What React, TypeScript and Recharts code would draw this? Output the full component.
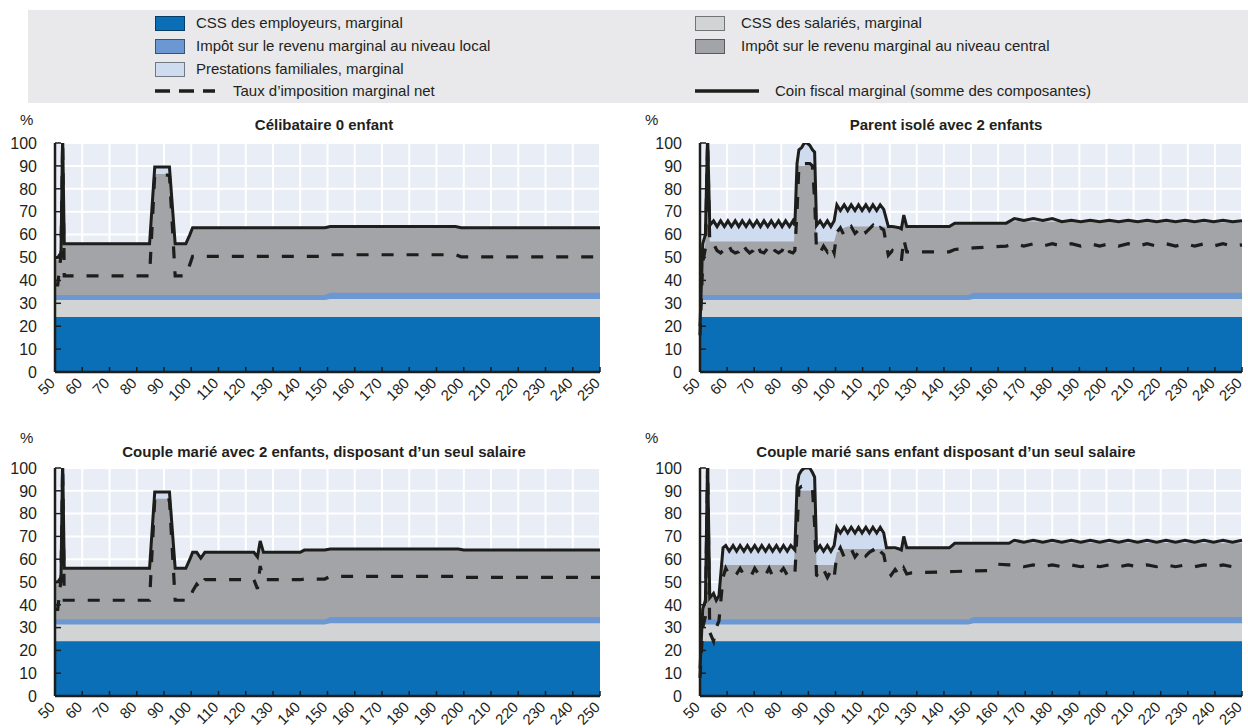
import React from "react";
import { ComposedChart, Area, Line, XAxis, YAxis, CartesianGrid } from "recharts";

const FONT = "'Liberation Sans Narrow', 'Arial Narrow', 'Liberation Sans', Arial, sans-serif";
const INK = "#1d1d1b";
const TEXT = "#231f20";

const C_EMPLOYER = "#0a6fb7";
const C_EMPLOYEE = "#d1d3d4";
const C_LOCAL = "#6b97d2";
const C_FAMILY = "#cfdbef";
const C_CENTRAL = "#a3a4a7";
const PLOT_BG = "#e8edf6";
const LEGEND_BG = "#e9e9eb";

const X_TICKS = [50, 60, 70, 80, 90, 100, 110, 120, 130, 140, 150, 160, 170, 180, 190, 200, 210, 220, 230, 240, 250];
const Y_TICKS = [0, 10, 20, 30, 40, 50, 60, 70, 80, 90, 100];

// layers shared by all four households (top of each layer, %)
const BAND_WAGE = [50, 149, 151, 250];
const EMPLOYER_TOP = [24, 24, 24, 24];
const EMPLOYEE_TOP = [31.4, 31.4, 31.9, 31.9];
const LOCAL_TOP = [33.6, 33.6, 34.6, 34.6];

// Célibataire 0 enfant
const P1_WAGE = [50, 51, 52.2, 52.8, 53.4, 84.7, 86.6, 92, 94.1, 98, 99.5, 100.5, 149, 151, 197, 199, 250];
const P1_TOTAL = [50, 50, 52, 104, 56, 56, 89.5, 89.5, 56, 56, 60, 63, 63, 63.5, 63.5, 63, 63];
const P1_NET = [38, 38, 51, 100, 42, 42, 86, 86, 42, 42, 47, 50.5, 50.5, 51.2, 51.2, 50.3, 50.3];
const P1_GRAY_TOP = [49, 49, 51, 104, 56, 56, 86.5, 86.5, 56, 56, 60, 63, 63, 63.5, 63.5, 63, 63];

// Parent isolé avec 2 enfants
const P2_WAGE = [
  50, 51, 52, 52.8, 53.6,
  55, 56.3, 57.6, 59, 60.3, 61.6, 63, 64.3, 65.6, 67, 68.3, 69.6, 71, 72.3, 73.6, 75, 76.3, 77.6, 79, 80.3, 81.6, 83, 84.3,
  85, 85.8, 86.5, 87.5, 88.5, 89.5, 90.5, 91.5, 92.3, 93,
  94.3, 95.6, 97, 98.3, 99.5,
  100.5, 101.8, 103.2, 104.5, 105.8, 107.2, 108.5, 109.8, 111.2, 112.5, 113.8, 115.2, 116.5, 117.8,
  119.5, 121, 123.5, 124.3, 125.2, 126.3, 142, 144, 149, 151, 158, 163,
  166, 169.5, 173, 176.5, 180, 183.5, 187, 190.5, 194, 197.5, 201, 204.5, 208, 211.5, 215, 218.5, 222, 225.5, 229, 232.5, 236, 239.5, 243, 246.5, 250,
];
const P2_TOTAL = [
  20, 56, 60, 104, 64,
  66, 63.5, 66, 63.5, 66, 63.5, 66, 63.5, 66, 63.5, 66, 63.5, 66, 63.5, 66, 63.5, 66, 63.5, 66, 63.5, 66, 63.5, 66,
  64, 91, 97, 98, 100, 100, 99, 97, 96, 64,
  66, 63.5, 66, 63.5, 66,
  73, 70.5, 73, 70.5, 73, 70.5, 73, 70.5, 73, 70.5, 73, 70.5, 73, 71,
  63.5, 63.5, 63, 62.5, 68.5, 63.5, 63.5, 65, 65, 65, 65, 65,
  67, 66.2, 67, 66.2, 67, 65.6, 66.3, 65.6, 66.3, 65.6, 66.3, 65.6, 66.3, 65.6, 66.3, 65.6, 66.3, 65.6, 66.3, 65.6, 66.3, 65.6, 66.3, 65.6, 66,
];
const P2_NET = [
  16, 48, 54, 100, 56,
  56, 53, 52, 53.5, 56, 53, 52, 52.5, 56, 53.5, 52, 53, 56, 52.5, 52, 54, 56, 53, 52, 53, 56, 52.5, 52,
  53, 70, 90, 91, 91, 91, 91, 90, 75, 53,
  52, 55, 52.5, 55.5, 52,
  61, 63, 59.5, 62, 63.5, 60.5, 62, 64, 61, 62.5, 64, 61, 63, 62,
  51, 53, 50, 48.5, 58, 52.5, 52.5, 53.5, 54, 54.2, 54.7, 55,
  56, 55, 56, 55, 56, 55, 56, 55, 56, 55, 56, 55, 56, 55, 56, 55, 56, 55, 56, 55, 56, 55, 56, 55, 55.5,
];
const P2_GRAY_WAGE = [50, 51, 52, 52.8, 53.6, 84.7, 85.8, 92.3, 93, 99.5, 100.5, 103.2, 104.5, 117.8, 119.5, 123.5, 124.3, 125.2, 126.3, 142, 144, 163, 166, 180, 250];
const P2_GRAY_TOP = [33.6, 45, 57, 104, 57, 57, 90, 90, 57, 57, 61, 63, 63.5, 63.5, 63.1, 62.6, 62.1, 68, 63.1, 63.1, 64.6, 64.6, 65.8, 65.6, 65.3];

// Couple marié avec 2 enfants, un seul salaire
const P3_WAGE = [50, 51, 52.2, 52.8, 53.4, 84.7, 86.6, 92, 94.1, 98, 99.5, 100.5, 102, 103.5, 105, 123, 124.3, 125.3, 126.5, 140, 141.5, 149, 151, 198, 200, 250];
const P3_TOTAL = [50, 50, 52, 104, 56, 56, 89.5, 89.5, 56, 56, 60, 63, 63, 60.5, 63, 63, 61, 68, 63, 63, 64, 64, 64.5, 64.5, 64, 64];
const P3_NET = [38, 38, 51, 100, 42, 42, 86, 86, 42, 42, 42, 46, 49, 47, 51, 51, 47, 57, 51, 51, 51.3, 51.3, 52.5, 52.5, 52, 52];
const P3_GRAY_TOP = [49, 49, 51, 104, 56, 56, 86.5, 86.5, 56, 56, 60, 63, 63, 60.5, 63, 63, 61, 68, 63, 63, 64, 64, 64.5, 64.5, 64, 64];

// Couple marié sans enfant, un seul salaire
const P4_WAGE = [
  50, 51, 52, 52.8, 53.6, 55, 56, 57, 58.5,
  59.5, 60.8, 62.2, 63.5, 64.8, 66.2, 67.5, 68.8, 70.2, 71.5, 72.8, 74.2, 75.5, 76.8, 78.2, 79.5, 80.8, 82.2, 83.5,
  85, 85.8, 86.5, 87.5, 88.5, 89.5, 90.5, 91.5, 92.3, 93,
  94.3, 95.6, 97, 98.3, 99.5,
  100.5, 101.8, 103.2, 104.5, 105.8, 107.2, 108.5, 109.8, 111.2, 112.5, 113.8, 115.2, 116.5, 117.8,
  118.8, 120.5, 122, 123.5, 124.3, 125.2, 126.3, 128, 142, 144, 149, 156, 160, 164,
  166, 169.5, 173, 176.5, 180, 183.5, 187, 190.5, 194, 197.5, 201, 204.5, 208, 211.5, 215, 218.5, 222, 225.5, 229, 232.5, 236, 239.5, 243, 246.5, 250,
];
const P4_TOTAL = [
  12, 38, 42, 104, 43, 45, 42, 44, 65,
  66, 63.5, 66, 63.5, 66, 63.5, 66, 63.5, 66, 63.5, 66, 63.5, 66, 63.5, 66, 63.5, 66, 63.5, 66,
  64, 92, 97, 99, 100, 100, 100, 98, 96, 64,
  66, 63.5, 66, 63.5, 66,
  74, 71.5, 74, 71.5, 74, 71.5, 74, 71.5, 74, 71.5, 74, 71.5, 74, 71.5,
  65, 65, 65, 64.5, 64, 70, 65, 65, 65, 67, 67, 67, 67, 67,
  68.3, 67.4, 68.3, 67.4, 68.3, 67.4, 68.3, 67.4, 68.3, 67.4, 68.3, 67.4, 68.3, 67.4, 68.3, 67.4, 68.3, 67.4, 68.3, 67.4, 68.3, 67.4, 68.3, 67.4, 68.3,
];
const P4_NET = [
  8, 30, 35, 100, 28, 24, 30, 33, 52,
  56, 53, 52, 53.5, 56, 53, 52, 52.5, 56, 53.5, 52, 53, 56, 52.5, 52, 54, 56, 53, 52,
  53, 72, 91, 92, 92, 92, 92, 91, 75, 53,
  52, 55.5, 52, 55, 52,
  62, 65, 61, 63.5, 64.5, 61, 63, 64.5, 61.5, 63, 64, 61, 63.5, 62,
  56, 53, 55.5, 53, 53, 56, 53.5, 54, 54.5, 54.6, 54.8, 55, 57.8, 57.5,
  57.5, 56.7, 57.5, 56.7, 57.5, 56.7, 57.5, 56.7, 57.5, 56.7, 57.5, 56.7, 57.5, 56.7, 57.5, 56.7, 57.5, 56.7, 57.5, 56.7, 57.5, 56.7, 57.5, 56.7, 57.5,
];
const P4_GRAY_WAGE = [50, 51, 52, 52.8, 53.6, 55, 56, 57, 58.5, 84.7, 85.8, 92.3, 93, 99.5, 100.5, 103.2, 117.8, 118.8, 123.5, 124.3, 125.2, 126.3, 142, 144, 164, 166, 250];
const P4_GRAY_TOP = [33.6, 36, 40, 104, 43, 45, 42, 44, 57.5, 57.5, 90, 90, 57.5, 57.5, 63, 64.5, 64.5, 64.5, 64, 63.5, 69.5, 64.5, 64.5, 66.5, 66.5, 67.3, 67];

const pts = (xs: number[], ys: number[]) => xs.map((x, i) => ({ x, y: ys[i] }));

const X_GAP = 2;
const Y_GAP = 18;

const XTick = (props: any) => {
  const { x, y, payload } = props;
  const axisY = y - X_GAP;
  const ax = x + 1;
  const ay = axisY + 12;
  return (
    <g>
      <line x1={x} x2={x} y1={axisY} y2={axisY - 5} stroke={INK} strokeWidth={1.5} />
      <text x={ax} y={ay} textAnchor="end" transform={`rotate(-45, ${ax}, ${ay})`} fontFamily={FONT} fontSize={15} fill={TEXT}>
        {payload.value}
      </text>
    </g>
  );
};

const YTick = (props: any) => {
  const { x, y, payload } = props;
  const axisX = x + Y_GAP;
  return (
    <g>
      <line x1={axisX} x2={axisX + 6} y1={y} y2={y} stroke={INK} strokeWidth={1.5} />
      <text x={x} y={y} dy="0.36em" textAnchor="end" fontFamily={FONT} fontSize={16} fill={TEXT}>
        {payload.value}
      </text>
    </g>
  );
};

type PanelProps = {
  left: number;
  top: number;
  width: number;
  height: number;
  right: number;
  axisHeight: number;
  wage: number[];
  total: number[];
  net: number[];
  grayWage: number[];
  grayTop: number[];
};

function Panel(p: PanelProps) {
  return (
    <div style={{ position: "absolute", left: p.left, top: p.top }}>
      <ComposedChart width={p.width} height={p.height} margin={{ top: 12, right: p.right, bottom: 0, left: 0 }}>
        <CartesianGrid fill={PLOT_BG} fillOpacity={1} stroke="#ffffff" strokeWidth={2} />
        <XAxis
          dataKey="x"
          type="number"
          domain={[50, 250]}
          ticks={X_TICKS}
          interval={0}
          height={p.axisHeight}
          tickSize={0}
          tickMargin={X_GAP}
          tick={<XTick />}
          axisLine={{ stroke: INK, strokeWidth: 2.5 }}
        />
        <XAxis xAxisId="top" orientation="top" dataKey="x" type="number" domain={[50, 250]} height={0} tick={false} tickLine={false} axisLine={{ stroke: INK, strokeWidth: 1.5 }} />
        <YAxis
          type="number"
          domain={[0, 100]}
          ticks={Y_TICKS}
          interval={0}
          allowDataOverflow
          width={55}
          tickSize={0}
          tickMargin={Y_GAP}
          tick={<YTick />}
          axisLine={{ stroke: INK, strokeWidth: 2.5 }}
        />
        <YAxis yAxisId="right" orientation="right" type="number" domain={[0, 100]} width={0} tick={false} tickLine={false} axisLine={{ stroke: "#3a3a3a", strokeWidth: 1.5 }} />
        <Area data={pts(p.wage, p.total)} dataKey="y" type="linear" fill={C_FAMILY} fillOpacity={1} stroke="none" isAnimationActive={false} />
        <Area data={pts(p.grayWage, p.grayTop)} dataKey="y" type="linear" fill={C_CENTRAL} fillOpacity={1} stroke="none" isAnimationActive={false} />
        <Area data={pts(BAND_WAGE, LOCAL_TOP)} dataKey="y" type="linear" fill={C_LOCAL} fillOpacity={1} stroke="none" isAnimationActive={false} />
        <Area data={pts(BAND_WAGE, EMPLOYEE_TOP)} dataKey="y" type="linear" fill={C_EMPLOYEE} fillOpacity={1} stroke="none" isAnimationActive={false} />
        <Area data={pts(BAND_WAGE, EMPLOYER_TOP)} dataKey="y" type="linear" fill={C_EMPLOYER} fillOpacity={1} stroke="none" isAnimationActive={false} />
        <Line data={pts(p.wage, p.net)} dataKey="y" type="linear" stroke={INK} strokeWidth={3.2} strokeDasharray="12 13" dot={false} isAnimationActive={false} />
        <Line data={pts(p.wage, p.total)} dataKey="y" type="linear" stroke={INK} strokeWidth={3} dot={false} isAnimationActive={false} />
      </ComposedChart>
    </div>
  );
}

const txt: React.CSSProperties = { position: "absolute", fontFamily: FONT, fontSize: 15, color: TEXT, lineHeight: "18px", whiteSpace: "nowrap" };
const titleStyle: React.CSSProperties = { ...txt, fontWeight: "bold", fontSize: 15, textAlign: "center", width: 600 };

function Swatch({ left, cy, color }: { left: number; cy: number; color: string }) {
  return (
    <div style={{ position: "absolute", left, top: cy - 7.5, width: 30, height: 15, background: color, boxSizing: "border-box", border: "1px solid rgba(0,0,0,0.45)" }} />
  );
}

function Legend() {
  const rows = [23, 46, 69, 91];
  return (
    <div style={{ position: "absolute", left: 28, top: 10, width: 1220, height: 93, background: LEGEND_BG }}>
      <div style={{ position: "absolute", left: -28, top: -10 }}>
        <Swatch left={155} cy={rows[0]} color={C_EMPLOYER} />
        <div style={{ ...txt, left: 196, top: rows[0] - 9 }}>CSS des employeurs, marginal</div>
        <Swatch left={155} cy={rows[1]} color={C_LOCAL} />
        <div style={{ ...txt, left: 196, top: rows[1] - 9 }}>Impôt sur le revenu marginal au niveau local</div>
        <Swatch left={155} cy={rows[2]} color={C_FAMILY} />
        <div style={{ ...txt, left: 196, top: rows[2] - 9 }}>Prestations familiales, marginal</div>
        <svg style={{ position: "absolute", left: 155, top: rows[3] - 3 }} width={60} height={6}>
          <line x1={0} x2={60} y1={3} y2={3} stroke={INK} strokeWidth={3.5} strokeDasharray="15 9" />
        </svg>
        <div style={{ ...txt, left: 233, top: rows[3] - 9 }}>Taux d’imposition marginal net</div>

        <Swatch left={695} cy={rows[0]} color={C_EMPLOYEE} />
        <div style={{ ...txt, left: 741, top: rows[0] - 9 }}>CSS des salariés, marginal</div>
        <Swatch left={695} cy={rows[1]} color={C_CENTRAL} />
        <div style={{ ...txt, left: 741, top: rows[1] - 9 }}>Impôt sur le revenu marginal au niveau central</div>
        <svg style={{ position: "absolute", left: 695, top: rows[3] - 3 }} width={64} height={6}>
          <line x1={0} x2={64} y1={3} y2={3} stroke={INK} strokeWidth={3.5} />
        </svg>
        <div style={{ ...txt, left: 775, top: rows[3] - 9 }}>Coin fiscal marginal (somme des composantes)</div>
      </div>
    </div>
  );
}

export default function App() {
  return (
    <div style={{ position: "absolute", left: 0, top: 0, width: 1248, height: 728, background: "#ffffff", overflow: "hidden" }}>
      <Legend />

      <div style={{ ...txt, left: 20, top: 111 }}>%</div>
      <div style={{ ...titleStyle, left: 24, top: 116 }}>Célibataire 0 enfant</div>
      <Panel left={0} top={131} width={610} height={286} right={10} axisHeight={45} wage={P1_WAGE} total={P1_TOTAL} net={P1_NET} grayWage={P1_WAGE} grayTop={P1_GRAY_TOP} />

      <div style={{ ...txt, left: 645, top: 111 }}>%</div>
      <div style={{ ...titleStyle, left: 646, top: 116 }}>Parent isolé avec 2 enfants</div>
      <Panel left={645} top={131} width={605} height={286} right={8} axisHeight={45} wage={P2_WAGE} total={P2_TOTAL} net={P2_NET} grayWage={P2_GRAY_WAGE} grayTop={P2_GRAY_TOP} />

      <div style={{ ...txt, left: 20, top: 429 }}>%</div>
      <div style={{ ...titleStyle, left: 24, top: 443 }}>Couple marié avec 2 enfants, disposant d’un seul salaire</div>
      <Panel left={0} top={456} width={610} height={272} right={10} axisHeight={32} wage={P3_WAGE} total={P3_TOTAL} net={P3_NET} grayWage={P3_WAGE} grayTop={P3_GRAY_TOP} />

      <div style={{ ...txt, left: 645, top: 429 }}>%</div>
      <div style={{ ...titleStyle, left: 646, top: 443 }}>Couple marié sans enfant disposant d’un seul salaire</div>
      <Panel left={645} top={456} width={605} height={272} right={8} axisHeight={32} wage={P4_WAGE} total={P4_TOTAL} net={P4_NET} grayWage={P4_GRAY_WAGE} grayTop={P4_GRAY_TOP} />
    </div>
  );
}
